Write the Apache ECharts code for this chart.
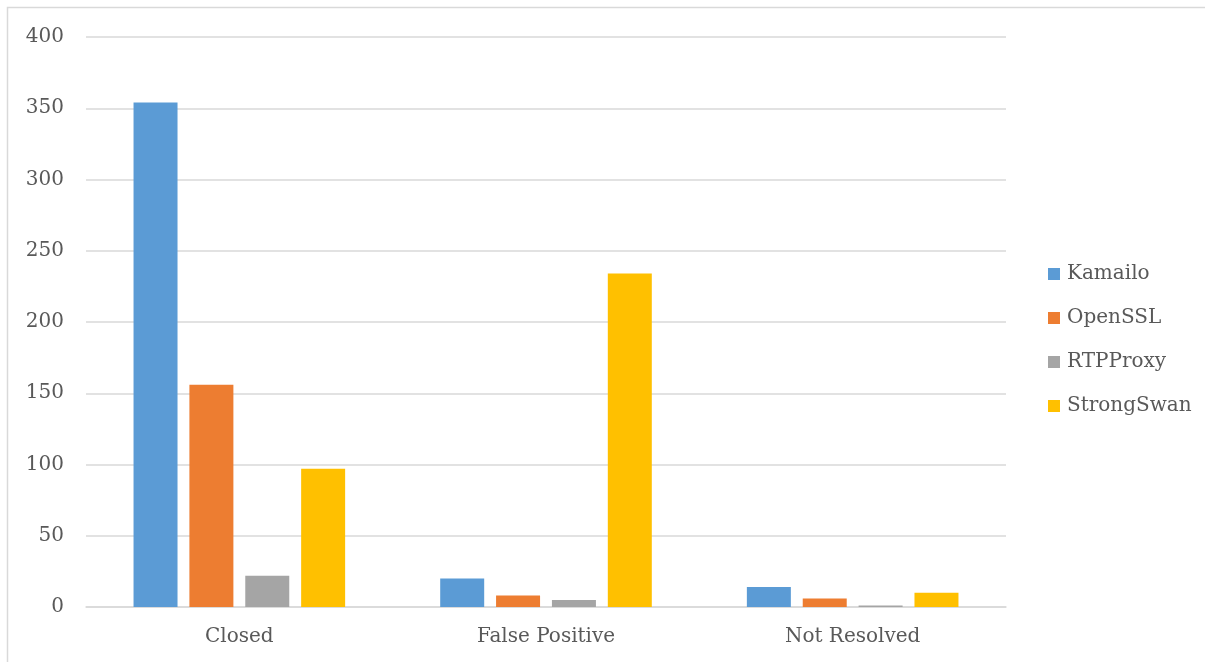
<!DOCTYPE html>
<html>
<head>
<meta charset="utf-8">
<script src="https://cdn.jsdelivr.net/npm/echarts@6/dist/echarts.min.js"></script>
<style>
html,body{margin:0;padding:0;background:#fff;}
#chart{width:1205px;height:662px;}
</style>
</head>
<body>
<div id="chart"></div>
<script>
const categories = ['Closed', 'False Positive', 'Not Resolved'];
const seriesNames = ['Kamailo', 'OpenSSL', 'RTPProxy', 'StrongSwan'];
const kamailo = [354, 20, 14];
const openssl = [156, 8, 6];
const rtpproxy = [22, 5, 1];
const strongswan = [97, 234, 10];
const yTicks = [0, 50, 100, 150, 200, 250, 300, 350, 400];
const colors = ['#5B9BD5', '#ED7D31', '#A5A5A5', '#FFC000'];

const values = [kamailo, openssl, rtpproxy, strongswan];
const font = '"DejaVu Serif", "Liberation Serif", serif';

const chart = echarts.init(document.getElementById('chart'));
chart.setOption({
  animation: false,
  textStyle: { fontFamily: font },
  graphic: [{
    type: 'rect',
    shape: { x: 7.5, y: 7.5, width: 1400, height: 900 },
    style: { fill: 'none', stroke: '#D9D9D9', lineWidth: 1.5 },
    silent: true
  }],
  grid: { left: 86, right: 199, top: 37, bottom: 55, containLabel: false },
  legend: {
    orient: 'vertical',
    left: 1043,
    top: 259,
    itemWidth: 12,
    itemHeight: 12,
    itemGap: 24,
    icon: 'rect',
    textStyle: { fontFamily: font, fontSize: 20, color: '#595959', padding: [0, 0, 0, 2] },
    data: seriesNames
  },
  xAxis: {
    type: 'category',
    data: categories,
    axisLine: { lineStyle: { color: '#D9D9D9', width: 1.5 } },
    axisTick: { show: false },
    axisLabel: { fontFamily: font, fontSize: 20, color: '#595959', margin: 20 }
  },
  yAxis: {
    type: 'value',
    min: yTicks[0],
    max: yTicks[yTicks.length - 1],
    interval: 50,
    axisLine: { show: false },
    axisTick: { show: false },
    splitLine: { lineStyle: { color: '#D9D9D9', width: 1.5 } },
    axisLabel: { fontFamily: font, fontSize: 20, color: '#595959', margin: 22 }
  },
  series: seriesNames.map((n, i) => ({
    name: n,
    type: 'bar',
    data: values[i],
    itemStyle: { color: colors[i] },
    barGap: '27%',
    barCategoryGap: '31%'
  }))
});
</script>
</body>
</html>
